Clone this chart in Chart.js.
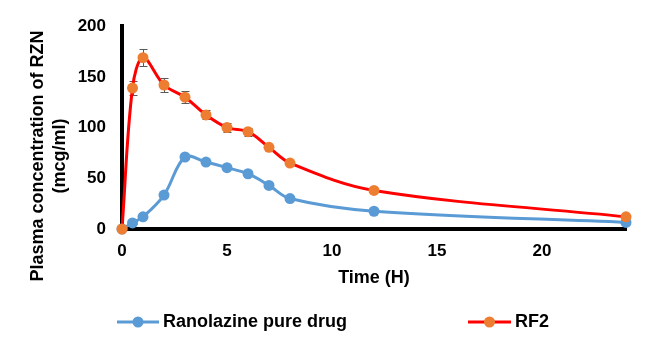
<!DOCTYPE html>
<html lang="en">
<head>
    <meta charset="UTF-8">
    <title>Plasma concentration of RZN</title>
    <script src="https://cdn.jsdelivr.net/npm/chart.js"></script>
    <style>
        html, body { margin: 0; padding: 0; background: #fff; }
        #wrap { position: relative; width: 659px; height: 361px; }
    </style>
</head>
<body>
    <div id="wrap"><canvas id="pkChart"></canvas></div>

    <script>
        // Time points (hours)
        const times = [0, 0.5, 1, 2, 3, 4, 5, 6, 7, 8, 12, 24];

        // Ranolazine pure drug
        const pureDrug = [0, 6, 12, 33.5, 71, 66, 60.5, 54.5, 43, 30, 17.5, 6.5];
        const pureDrugErr = [0, 1, 1.5, 1.5, 2, 1.5, 1.5, 1.5, 1.5, 1, 1, 1];

        // RF2 formulation
        const rf2 = [0, 139, 169, 142, 130, 112.5, 100, 96, 80.5, 65, 38, 12];
        const rf2Err = [0, 7, 8.5, 7, 6, 4.5, 4.5, 4, 2, 2, 1.5, 1];

        const yTicks = [0, 50, 100, 150, 200];
        const xTicks = [0, 5, 10, 15, 20];

        const seriesLabels = ['Ranolazine pure drug', 'RF2'];
        const yTitle = ['Plasma concentration of RZN', '(mcg/ml)'];
        const xTitle = 'Time (H)';

        const pts = (xs, ys) => xs.map((x, i) => ({ x: x, y: ys[i] }));

        const FONT = 'Arial, "Liberation Sans", sans-serif';

        // error bars, drawn through the scales, under the markers
        const errorBars = {
            id: 'errorBars',
            beforeDatasetsDraw(chart) {
                const ctx = chart.ctx;
                const xs = chart.scales.x, ys = chart.scales.y;
                const errs = [pureDrugErr, rf2Err];
                ctx.save();
                ctx.strokeStyle = '#595959';
                ctx.lineWidth = 1;
                chart.data.datasets.forEach((ds, d) => {
                    ds.data.forEach((p, i) => {
                        const e = errs[d][i];
                        if (!e) return;
                        const px = Math.round(xs.getPixelForValue(p.x)) + 0.5;
                        const top = Math.round(ys.getPixelForValue(p.y + e)) + 0.5;
                        const bot = Math.round(ys.getPixelForValue(p.y - e)) + 0.5;
                        ctx.beginPath();
                        ctx.moveTo(px, top); ctx.lineTo(px, bot);
                        ctx.moveTo(px - 4, top); ctx.lineTo(px + 4, top);
                        ctx.moveTo(px - 4, bot); ctx.lineTo(px + 4, bot);
                        ctx.stroke();
                    });
                });
                ctx.restore();
            }
        };

        // axis titles and the bottom legend
        const extras = {
            id: 'extras',
            afterDraw(chart) {
                const ctx = chart.ctx;
                const area = chart.chartArea;
                ctx.save();
                ctx.fillStyle = '#000';
                ctx.font = 'bold 18px ' + FONT;
                ctx.textAlign = 'center';
                ctx.textBaseline = 'middle';

                ctx.fillText(xTitle, (area.left + area.right) / 2, 278);

                ctx.save();
                ctx.translate(38, 156);
                ctx.rotate(-Math.PI / 2);
                ctx.fillText(yTitle[0], 0, 0);
                ctx.restore();
                ctx.save();
                ctx.translate(60, 156);
                ctx.rotate(-Math.PI / 2);
                ctx.fillText(yTitle[1], 0, 0);
                ctx.restore();

                // legend
                const items = [
                    { x1: 117, x2: 159, lc: '#5B9BD5', pc: '#5B9BD5' },
                    { x1: 468, x2: 511, lc: '#FF0000', pc: '#ED7D31' }
                ];
                const ly = 322;
                ctx.textAlign = 'left';
                items.forEach((it, i) => {
                    ctx.strokeStyle = it.lc;
                    ctx.lineWidth = 3;
                    ctx.beginPath();
                    ctx.moveTo(it.x1, ly); ctx.lineTo(it.x2, ly);
                    ctx.stroke();
                    ctx.fillStyle = it.pc;
                    ctx.beginPath();
                    ctx.arc((it.x1 + it.x2) / 2, ly, 5.5, 0, Math.PI * 2);
                    ctx.fill();
                    ctx.fillStyle = '#000';
                    ctx.fillText(seriesLabels[i], it.x2 + 4, ly);
                });
                ctx.restore();
            }
        };

        new Chart(document.getElementById('pkChart'), {
            type: 'line',
            data: {
                datasets: [
                    {
                        label: seriesLabels[0],
                        data: pts(times, pureDrug),
                        borderColor: '#5B9BD5',
                        backgroundColor: '#5B9BD5',
                        borderWidth: 3,
                        pointRadius: 5.5,
                        pointBorderWidth: 0,
                        tension: 0.35,
                        clip: false,
                        order: 1
                    },
                    {
                        label: seriesLabels[1],
                        data: pts(times, rf2),
                        borderColor: '#FF0000',
                        backgroundColor: '#ED7D31',
                        pointBackgroundColor: '#ED7D31',
                        borderWidth: 3,
                        pointRadius: 5.5,
                        pointBorderWidth: 0,
                        tension: 0.35,
                        clip: false,
                        order: 0
                    }
                ]
            },
            options: {
                responsive: true,
                maintainAspectRatio: false,
                animation: false,
                layout: { padding: { left: 0, top: 23, right: 33, bottom: 0 } },
                plugins: {
                    legend: { display: false },
                    tooltip: { enabled: false }
                },
                scales: {
                    x: {
                        type: 'linear',
                        min: 0,
                        max: 24,
                        grid: { display: false, drawTicks: false },
                        border: { display: true, color: '#000', width: 4 },
                        afterBuildTicks(scale) {
                            scale.ticks = xTicks.map(v => ({ value: v }));
                        },
                        afterFit(scale) { scale.height = 132; },
                        ticks: {
                            color: '#000',
                            padding: 12,
                            font: { family: FONT, size: 17, weight: 'bold' }
                        }
                    },
                    y: {
                        min: 0,
                        max: 200,
                        grid: { display: false, drawTicks: false },
                        border: { display: true, color: '#000', width: 4 },
                        afterBuildTicks(scale) {
                            scale.ticks = yTicks.map(v => ({ value: v }));
                        },
                        afterFit(scale) { scale.width = 122; },
                        ticks: {
                            color: '#000',
                            padding: 16,
                            font: { family: FONT, size: 17, weight: 'bold' }
                        }
                    }
                }
            },
            plugins: [errorBars, extras]
        });
    </script>
</body>
</html>
